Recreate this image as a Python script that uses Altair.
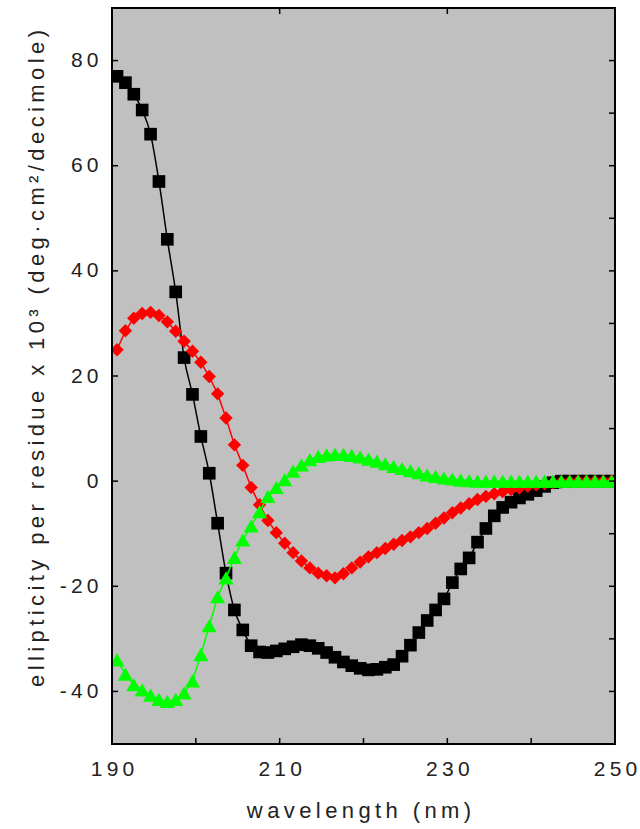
import altair as alt
import pandas as pd

# Circular dichroism spectra: wavelength grid (nm) and mean residue ellipticity (x10^3)
wavelengths = [round(190.6 + i, 1) for i in range(60)]

black_vals = [77.0, 75.8, 73.6, 70.6, 66.0, 57.0, 46.0, 36.0, 23.5, 16.5,
              8.5, 1.5, -8.0, -17.5, -24.5, -28.3, -31.3, -32.5, -32.6, -32.3,
              -31.9, -31.5, -31.1, -31.3, -31.8, -32.6, -33.5, -34.4, -35.1, -35.6,
              -35.9, -35.8, -35.4, -34.9, -33.3, -31.2, -28.8, -26.5, -24.5, -22.4,
              -19.3, -16.7, -14.6, -11.6, -9.0, -6.6, -5.0, -4.0, -3.2, -2.5,
              -1.8, -1.0, -0.3, 0.0, 0.0, 0.0, 0.0, 0.0, 0.0, 0.0]

red_vals = [25.0, 28.6, 31.0, 31.9, 32.1, 31.5, 30.3, 28.5, 26.6, 24.7,
            22.6, 19.9, 16.6, 12.0, 6.9, 3.0, -1.2, -4.5, -7.5, -9.8,
            -11.8, -13.6, -15.2, -16.5, -17.5, -18.0, -18.4, -17.6, -16.5, -15.4,
            -14.4, -13.6, -12.8, -12.0, -11.3, -10.6, -9.8, -9.0, -8.0, -7.0,
            -6.0, -5.1, -4.3, -3.5, -2.9, -2.4, -2.0, -1.6, -1.3, -1.0,
            -0.7, -0.5, -0.3, -0.2, -0.1, 0.0, 0.0, 0.0, 0.0, 0.0]

green_vals = [-34.0, -36.7, -38.7, -39.7, -40.7, -41.5, -41.9, -41.5, -40.3, -38.0,
              -33.0, -27.5, -22.0, -18.4, -14.5, -11.2, -8.5, -5.8, -2.9, -1.2,
              0.3, 1.9, 3.1, 4.1, 4.7, 5.0, 5.1, 5.1, 4.9, 4.6,
              4.2, 3.8, 3.3, 2.8, 2.4, 2.0, 1.6, 1.2, 0.9, 0.6,
              0.4, 0.2, 0.1, 0.0, 0.0, 0.0, 0.0, 0.0, 0.0, 0.0,
              0.0, 0.0, 0.0, 0.0, 0.0, 0.0, 0.0, 0.0, 0.0, 0.0]

x_label_values = [190, 210, 230, 250]
y_label_values = [-40, -20, 0, 20, 40, 60, 80]
bottom_ticks = [200, 210, 220, 230, 240]
top_ticks = [210, 230]
left_ticks = [-40, -20, 0, 20, 40, 60, 80]
right_ticks = [-40, -30, -20, -10, 0, 10, 20, 30, 40, 50, 60, 70, 80]

x_title = "wavelength (nm)"
y_title = "ellipticity per residue x 10³ (deg·cm²/decimole)"

W, H = 503, 736
FONT = "Liberation Sans"
TEXT = "#222222"
GAP = "\u2009"  # wide letter spacing of titles and tick numbers


def spaced(s):
    return GAP.join(s)


label_expr = "join(split('' + datum.value, ''), '" + GAP + "')"

x_enc = alt.X(
    "wl:Q",
    scale=alt.Scale(domain=[190, 250], nice=False, zero=False),
    axis=alt.Axis(
        values=x_label_values, title=spaced(x_title), grid=False, ticks=False,
        domain=False, labelFlush=False, labelOverlap=False, labelBound=False,
        labelFont=FONT, labelFontSize=21, labelColor=TEXT, labelPadding=14,
        labelExpr=label_expr,
        titleFont=FONT, titleFontSize=22, titleFontWeight="normal", titleColor=TEXT,
        titleX=W / 2 - 5, titleY=73, titleBaseline="alphabetic", titleAlign="center",
    ),
)
y_enc = alt.Y(
    "val:Q",
    scale=alt.Scale(domain=[-50, 90], nice=False, zero=False),
    axis=alt.Axis(
        values=y_label_values, title=spaced(y_title), grid=False, ticks=False,
        domain=False, labelFlush=False, labelOverlap=False, labelBound=False,
        labelFont=FONT, labelFontSize=21, labelColor=TEXT, labelPadding=14,
        labelExpr=label_expr,
        titleFont=FONT, titleFontSize=22, titleFontWeight="normal", titleColor=TEXT,
        titleX=-69, titleY=350, titleBaseline="alphabetic", titleAlign="center",
        titleAngle=270,
    ),
)


def series(vals):
    return pd.DataFrame({"wl": wavelengths, "val": vals})


black = series(black_vals)
red = series(red_vals)
green = series(green_vals)

black_line = alt.Chart(black).mark_line(
    color="black", strokeWidth=1.5, interpolate="monotone", clip=True
).encode(x=x_enc, y=y_enc)
black_pts = alt.Chart(black).mark_point(
    shape="square", filled=True, size=160, color="black", opacity=1, clip=True
).encode(x=x_enc, y=y_enc)

red_line = alt.Chart(red).mark_line(
    color="#ff0000", strokeWidth=1.5, clip=True
).encode(x=x_enc, y=y_enc)
red_pts = alt.Chart(red).mark_point(
    shape="diamond", filled=True, size=180, color="#ff0000", opacity=1, clip=True
).encode(x=x_enc, y=y_enc)

green_line = alt.Chart(green).mark_line(
    color="#00ff00", strokeWidth=1.5, clip=True
).encode(x=x_enc, y=y_enc)
green_pts = alt.Chart(green).mark_point(
    shape="triangle-up", filled=True, size=230, color="#00ff00", opacity=1, clip=True
).encode(x=x_enc, y=y_enc)

# inward tick marks on all four sides of the frame
tick_style = dict(color="black", strokeWidth=1.5)
bottom = alt.Chart(pd.DataFrame({"wl": bottom_ticks})).mark_rule(**tick_style).encode(
    x=x_enc, y=alt.value(H), y2=alt.value(H - 6))
top = alt.Chart(pd.DataFrame({"wl": top_ticks})).mark_rule(**tick_style).encode(
    x=x_enc, y=alt.value(0), y2=alt.value(6))
left = alt.Chart(pd.DataFrame({"val": left_ticks})).mark_rule(**tick_style).encode(
    y=y_enc, x=alt.value(0), x2=alt.value(6))
right = alt.Chart(pd.DataFrame({"val": right_ticks})).mark_rule(**tick_style).encode(
    y=y_enc, x=alt.value(W), x2=alt.value(W - 6))

frame = alt.Chart(pd.DataFrame({"a": [0]})).mark_rect(
    fillOpacity=0, stroke="black", strokeWidth=2
).encode(x=alt.value(0), x2=alt.value(W), y=alt.value(0), y2=alt.value(H))

chart = alt.layer(
    black_line, black_pts, red_line, red_pts, green_line, green_pts,
    bottom, top, left, right, frame,
).properties(
    width=W, height=H,
    padding={"left": 112, "top": 8, "right": 25, "bottom": 85},
    autosize=alt.AutoSizeParams(type="none"),
    background="white",
).configure_view(fill="#c0c0c0", stroke=None)

chart.save("out.html", embed_options={"renderer": "svg", "actions": False})
